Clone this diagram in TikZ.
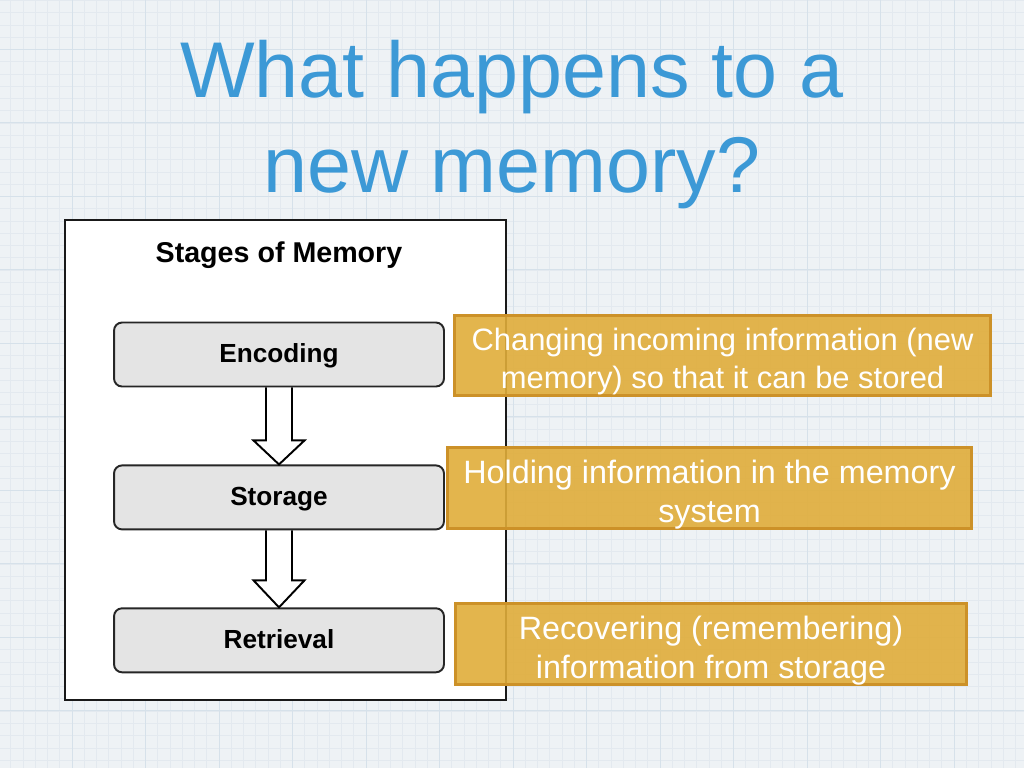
\documentclass[tikz,border=0pt]{standalone}
\usepackage{fontspec}
\setmainfont{Liberation Sans}
\usetikzlibrary{positioning, calc}
\definecolor{slidebg}{HTML}{EEF2F5}
\definecolor{gridminor}{HTML}{E3E9EF}
\definecolor{gridmajor}{HTML}{D6E1EA}
\definecolor{titleblue}{HTML}{3C99D6}
\definecolor{stagegray}{HTML}{E4E4E4}
\definecolor{goldfill}{HTML}{E0AD3A}
\definecolor{goldline}{HTML}{CC9128}
\newcommand\notestrut{\rule{0pt}{1.13em}}
\tikzset{
  stagebox/.style={
    rectangle,
    rounded corners=0.16cm,
    draw=black!85,
    line width=1.1pt,
    fill=stagegray,
    minimum width=6.6cm,
    minimum height=1.28cm,
    text height=0.95em,
    text depth=0pt,
    font=\fontsize{14.9}{17}\selectfont\bfseries
  },
  notebox/.style={
    rectangle,
    draw=goldline,
    line width=1.7pt,
    fill=goldfill,
    fill opacity=0.9,
    text opacity=1,
    text=white,
    align=center,
    inner sep=0pt
  },
  hollow/.style={draw=black, line width=1.1pt, line join=miter},
  panel/.style={draw=black!90, line width=1.4pt, fill=white},
  heading/.style={font=\fontsize{16.3}{19}\selectfont\bfseries, inner sep=0pt}
}
\begin{document}
\begin{tikzpicture}[x=0.02cm, y=-0.02cm, node distance=1.54cm]
\useasboundingbox (0,0) rectangle (1024,768);
% slide background with grid
\fill[slidebg] (0,0) rectangle (1024,768);
\begin{scope}
\clip (0,0) rectangle (1024,768);
\foreach \gx in {0,...,84}
  \draw[gridminor, line width=0.3pt] ({-1.5+12.25*\gx},0) -- ({-1.5+12.25*\gx},768);
\foreach \gy in {0,...,63}
  \draw[gridminor, line width=0.3pt] (0,{0.5+12.25*\gy}) -- (1024,{0.5+12.25*\gy});
\foreach \gx in {0,...,14}
  \draw[gridmajor, line width=0.5pt] ({-1.5+73.5*\gx},0) -- ({-1.5+73.5*\gx},768);
\foreach \gy in {0,...,10}
  \draw[gridmajor, line width=0.5pt] (0,{49+73.5*\gy}) -- (1024,{49+73.5*\gy});
\end{scope}

% title
\node[anchor=north, inner sep=0pt, align=center, text=titleblue,
  font=\fontsize{45}{53.9}\selectfont] (title) at (512,40)
  {What happens to a\\new memory?};

% figure panel
\draw[panel] (65,220) rectangle (506,700);
\node[heading, anchor=base] (stagehead) at (279,262) {Stages of Memory};
\node[stagebox] (enc) at (279,354.5) {Encoding};
\node[stagebox, below=of enc] (sto) {Storage};
\node[stagebox, below=of sto] (ret) {Retrieval};

% block arrows
\draw[hollow] ($(enc.south)+(-13,0)$) -- ($(sto.north)+(-13,-24)$) -- ($(sto.north)+(-25.5,-24)$)
  -- (sto.north) -- ($(sto.north)+(25.5,-24)$) -- ($(sto.north)+(13,-24)$) -- ($(enc.south)+(13,0)$);
\draw[hollow] ($(sto.south)+(-13,0)$) -- ($(ret.north)+(-13,-27)$) -- ($(ret.north)+(-25.5,-27)$)
  -- (ret.north) -- ($(ret.north)+(25.5,-27)$) -- ($(ret.north)+(13,-27)$) -- ($(sto.south)+(13,0)$);

% descriptions
\node[notebox, minimum width=10.72cm, minimum height=1.56cm,
  font=\fontsize{17.6}{21.5}\selectfont] (encnote) at (722.5,355.5)
  {\notestrut Changing incoming information (new\\memory) so that it can be stored};
\node[notebox, minimum width=10.48cm, minimum height=1.62cm,
  font=\fontsize{18.4}{22}\selectfont] (stonote) at (709.5,488)
  {\notestrut Holding information in the memory\\system};
\node[notebox, minimum width=10.22cm, minimum height=1.58cm,
  font=\fontsize{18.4}{22}\selectfont] (retnote) at (711,644)
  {\notestrut Recovering (remembering)\\information from storage};
\end{tikzpicture}
\end{document}
